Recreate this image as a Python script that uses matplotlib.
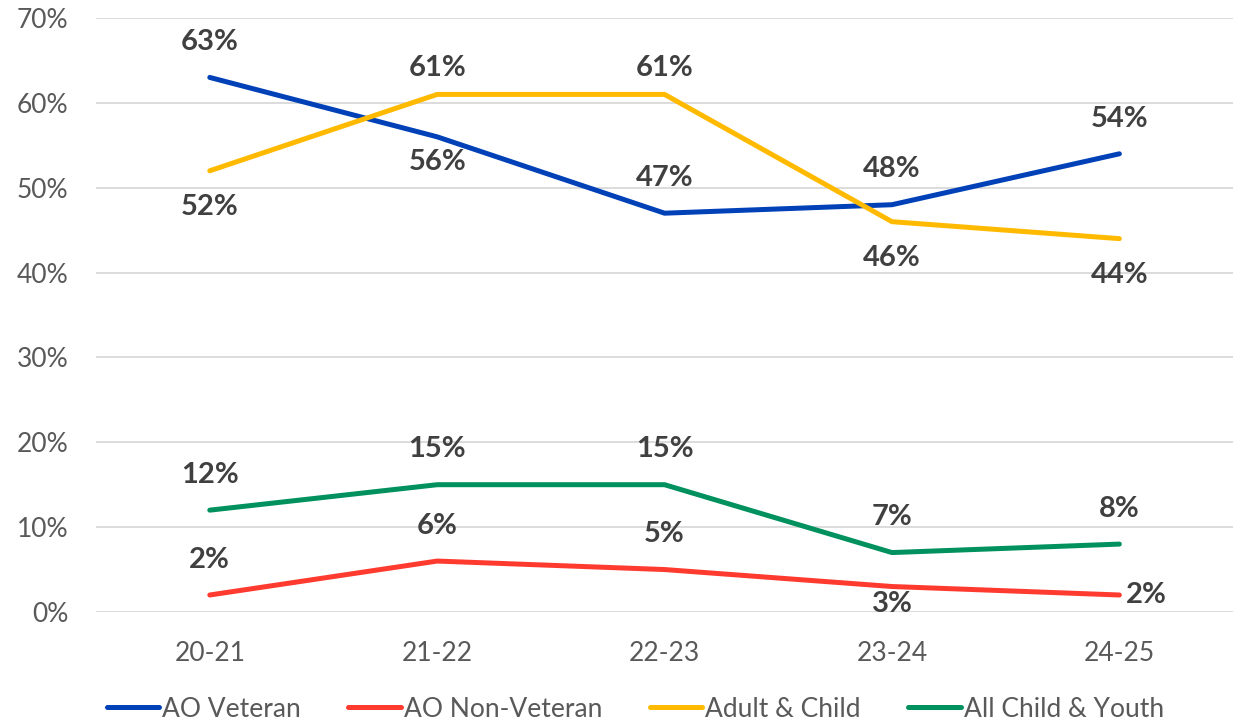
import matplotlib.pyplot as plt
from matplotlib.ticker import PercentFormatter

years = ["20-21", "21-22", "22-23", "23-24", "24-25"]
ao_veteran = [63, 56, 47, 48, 54]
ao_non_veteran = [2, 6, 5, 3, 2]
adult_child = [52, 61, 61, 46, 44]
child_youth = [12, 15, 15, 7, 8]

series = [
    ("AO Veteran", ao_veteran, "#0041B8"),
    ("AO Non-Veteran", ao_non_veteran, "#FF3B30"),
    ("Adult & Child", adult_child, "#FFBA00"),
    ("All Child & Youth", child_youth, "#00915F"),
]

# label placement per series: "a" above, "b" below, "r" right,
# "A"/"B" = closer above/below
label_pos = {
    "AO Veteran": ["a", "B", "a", "a", "a"],
    "AO Non-Veteran": ["a", "a", "a", "s", "r"],
    "Adult & Child": ["b", "A", "A", "b", "b"],
    "All Child & Youth": ["a", "a", "a", "a", "a"],
}
offsets = {
    "a": ((0, 16), "center", "bottom"),
    "A": ((0, 10), "center", "bottom"),
    "b": ((0, -17), "center", "top"),
    "B": ((0, -9), "center", "top"),
    "s": ((0, -3), "center", "top"),
    "r": ((5, 0), "left", "center"),
}

plt.rcParams["font.family"] = ["Lato", "DejaVu Sans"]

fig = plt.figure(figsize=(12.43, 7.22), dpi=100)
ax = fig.add_axes([0.0773, 0.1524, 0.9147, 0.8226])

x = range(len(years))
for name, vals, color in series:
    ax.plot(x, vals, color=color, lw=3.6, solid_capstyle="round", label=name, zorder=3)
    for i, v in enumerate(vals):
        off, ha, va = offsets[label_pos[name][i]]
        ax.annotate(f"{v}%", (i, v), xytext=off, textcoords="offset points",
                    ha=ha, va=va, fontsize=21, fontweight="bold", color="#404040")

ax.set_xlim(-0.5, len(years) - 0.5)
ax.set_ylim(0, 70)
ax.set_yticks(range(0, 71, 10))
ax.yaxis.set_major_formatter(PercentFormatter(decimals=0))
ax.set_xticks(list(x))
ax.set_xticklabels(years)
ax.grid(axis="y", color="#D9D9D9", lw=1.3)
ax.set_axisbelow(True)
for s in ax.spines.values():
    s.set_visible(False)
ax.tick_params(length=0, labelsize=19, labelcolor="#595959")
ax.tick_params(axis="x", pad=21)
ax.tick_params(axis="y", pad=20)

fig.legend(loc="center", bbox_to_anchor=(0.511, 0.018), ncol=4, frameon=False,
           fontsize=19, labelcolor="#595959", handlelength=2.0, handletextpad=0.1,
           columnspacing=1.8)

fig.savefig("out.png", dpi=100)
